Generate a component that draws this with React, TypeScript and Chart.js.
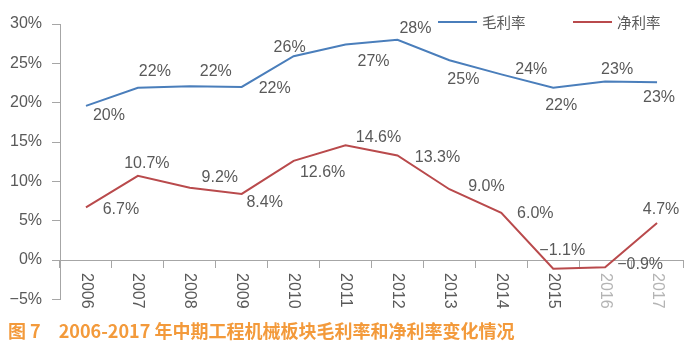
import React, { useEffect, useRef } from 'react';
import { Chart, registerables } from 'chart.js';

Chart.register(...registerables);

const years = ['2006', '2007', '2008', '2009', '2010', '2011', '2012', '2013', '2014', '2015', '2016', '2017'];
const grossMargin = [19.6, 21.9, 22.1, 22.0, 25.9, 27.4, 28.0, 25.4, 23.6, 21.9, 22.7, 22.6];
const netMargin = [6.7, 10.7, 9.2, 8.4, 12.6, 14.6, 13.3, 9.0, 6.0, -1.1, -0.9, 4.7];
const yTickValues = [-5, 0, 5, 10, 15, 20, 25, 30];
const seriesNames = ['毛利率', '净利率'];
const titleText = '图 7　2006-2017 年中期工程机械板块毛利率和净利率变化情况';

// label placement (style, not data): offsets of label centre from point
const grossLabelOffset: [number, number][] = [
  [23, 10], [17, -16], [26, -15], [33, 2], [-4, -9], [28, 17],
  [18, -11], [14, 19], [30, -5], [8, 18], [12, -12], [2, 15],
];
const netLabelOffset: [number, number][] = [
  [35, 2], [9, -12], [30, -10], [23, 9], [29, 12], [33, -8],
  [40, 2], [37, -3], [34, 1], [9, -18], [35, -3], [4, -13],
];

const BLUE = '#4a7ebb';
const RED = '#b94a4c';
const AXIS = '#a6a6a6';
const TEXT = '#595959';

const fmtMinus = (s: string) => s.replace('-', '\u2212');

const labelPlugin = {
  id: 'customLabels',
  afterDatasetsDraw(chart: any) {
    const ctx = chart.ctx;
    const xs = chart.scales.x;
    const ys = chart.scales.y;
    ctx.save();
    // data labels
    ctx.font = '16px "Liberation Sans", Arial, sans-serif';
    ctx.fillStyle = TEXT;
    ctx.textAlign = 'center';
    ctx.textBaseline = 'middle';
    const m0 = chart.getDatasetMeta(0);
    m0.data.forEach((pt: any, i: number) => {
      const [dx, dy] = grossLabelOffset[i];
      ctx.fillText(Math.round(grossMargin[i]) + '%', pt.x + dx, pt.y + dy);
    });
    const m1 = chart.getDatasetMeta(1);
    m1.data.forEach((pt: any, i: number) => {
      const [dx, dy] = netLabelOffset[i];
      ctx.fillText(fmtMinus(netMargin[i].toFixed(1)) + '%', pt.x + dx, pt.y + dy);
    });
    // x-axis labels, rotated clockwise
    const y0 = ys.getPixelForValue(0);
    ctx.textAlign = 'left';
    years.forEach((yr, i) => {
      const x = xs.getPixelForValue(i);
      ctx.save();
      ctx.translate(x, y0 + 13);
      ctx.rotate(Math.PI / 2);
      ctx.fillStyle = i >= 10 ? '#b4b4b4' : TEXT;
      ctx.fillText(yr, 0, 0);
      ctx.restore();
    });
    // legend
    const area = chart.chartArea;
    const ly = area.top - 2;
    const items = [
      { x: area.left + 378, color: BLUE, name: seriesNames[0] },
      { x: area.left + 513, color: RED, name: seriesNames[1] },
    ];
    ctx.font = '14.5px "Noto Sans CJK SC", sans-serif';
    ctx.textBaseline = 'middle';
    items.forEach((it) => {
      ctx.strokeStyle = it.color;
      ctx.lineWidth = 2.2;
      ctx.beginPath();
      ctx.moveTo(it.x, ly);
      ctx.lineTo(it.x + 39, ly);
      ctx.stroke();
      ctx.fillStyle = TEXT;
      ctx.fillText(it.name, it.x + 44, ly);
    });
    ctx.restore();
  },
};

export default function App() {
  const ref = useRef<HTMLCanvasElement>(null);
  useEffect(() => {
    if (!ref.current) return;
    const chart = new Chart(ref.current, {
      type: 'line',
      data: {
        labels: years,
        datasets: [
          { label: seriesNames[0], data: grossMargin, borderColor: BLUE, borderWidth: 2, pointRadius: 0, tension: 0, fill: false },
          { label: seriesNames[1], data: netMargin, borderColor: RED, borderWidth: 2, pointRadius: 0, tension: 0, fill: false },
        ],
      },
      options: {
        responsive: false,
        animation: false,
        layout: { padding: { top: 24, right: 8, bottom: 11, left: 0 } },
        plugins: { legend: { display: false }, title: { display: false }, tooltip: { enabled: false } },
        scales: {
          x: {
            type: 'category',
            offset: true,
            position: { y: 0 } as any,
            grid: { drawOnChartArea: false, drawTicks: true, tickLength: 7, color: AXIS, offset: true },
            border: { display: true, color: AXIS, width: 1 },
            ticks: { display: false },
          },
          y: {
            min: -5,
            max: 30,
            afterFit: (s: any) => { s.width = 60; },
            afterBuildTicks: (s: any) => { s.ticks = yTickValues.map((v) => ({ value: v })); },
            grid: { drawOnChartArea: false, drawTicks: true, tickLength: 8, color: AXIS },
            border: { display: true, color: AXIS, width: 1 },
            ticks: {
              padding: 10,
              color: TEXT,
              font: { family: '"Liberation Sans", Arial, sans-serif', size: 16 },
              callback: (v: any) => fmtMinus(String(v)) + '%',
            },
          },
        },
      },
      plugins: [labelPlugin],
    });
    return () => chart.destroy();
  }, []);
  return (
    <div style={{ position: 'absolute', left: 0, top: 0, width: 691, height: 350, background: '#fff' }}>
      <canvas ref={ref} width={691} height={319} style={{ display: 'block', position: 'absolute', left: 0, top: 0 }} />
      <div
        style={{
          position: 'absolute',
          left: 8,
          top: 318,
          fontFamily: '"Noto Sans CJK SC", sans-serif',
          fontWeight: 700,
          fontSize: 18,
          lineHeight: '24px',
          color: '#f39a3b',
          whiteSpace: 'pre',
        }}
      >
        {titleText}
      </div>
    </div>
  );
}
